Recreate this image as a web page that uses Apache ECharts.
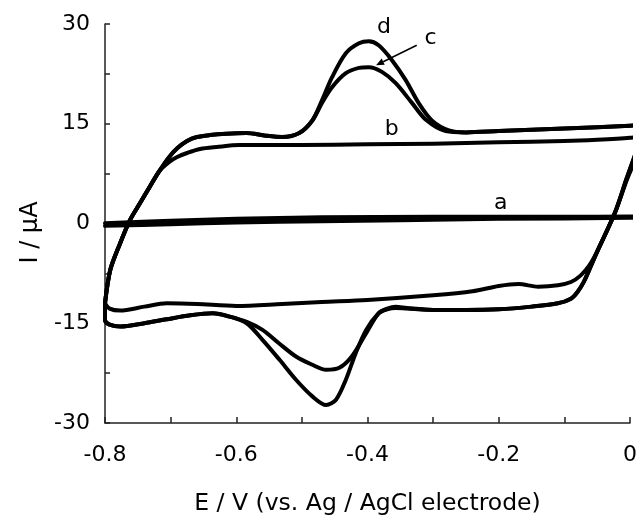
<!DOCTYPE html>
<html>
<head>
<meta charset="utf-8">
<script src="https://cdn.jsdelivr.net/npm/echarts@6/dist/echarts.min.js"></script>
<style>html,body{margin:0;padding:0;background:#fff;}#c{width:640px;height:521px;}</style>
</head>
<body>
<div id="c"></div>
<script>
// Potential E (V) vs current I (µA) for each voltammogram, as [E, I] pairs.
const curveA = [
  [-0.8, 0.05], [-0.7, 0.4], [-0.6, 0.7], [-0.47, 0.95], [-0.3, 1.0], [-0.2, 1.0], [-0.1, 1.0], [0, 1.05], [0.025, 1.05],
  [0, 0.85], [-0.2, 0.7], [-0.35, 0.5], [-0.47, 0.35], [-0.6, 0.15], [-0.7, -0.1], [-0.8, -0.35]
];
const curveB = [
  [-0.8, -12], [-0.792, -7], [-0.777, -3], [-0.762, 0.5], [-0.747, 3], [-0.732, 5.5], [-0.717, 7.9],
  [-0.703, 9.2], [-0.69, 10.0], [-0.675, 10.6], [-0.655, 11.2], [-0.63, 11.5], [-0.595, 11.8], [-0.5, 11.8],
  [-0.4, 11.9], [-0.3, 12.0], [-0.2, 12.2], [-0.1, 12.4], [-0.05, 12.6], [0, 12.9], [0.022, 13.2],
  [0.012, 10.5], [-0.005, 6.5], [-0.023, 1.6], [-0.049, -4], [-0.062, -6.3], [-0.075, -7.8], [-0.09, -8.8],
  [-0.11, -9.3], [-0.14, -9.5], [-0.17, -9.1], [-0.2, -9.4], [-0.24, -10.2], [-0.3, -10.8], [-0.4, -11.5],
  [-0.47, -11.8], [-0.53, -12.1], [-0.6, -12.4], [-0.66, -12.1], [-0.706, -12], [-0.74, -12.5],
  [-0.777, -13.1], [-0.793, -12.8], [-0.8, -12]
];
const curveC = [
  [-0.8, -12], [-0.792, -7], [-0.777, -3], [-0.762, 0.5], [-0.747, 3], [-0.732, 5.5], [-0.717, 7.9],
  [-0.703, 9.9], [-0.69, 11.3], [-0.675, 12.4], [-0.66, 13.0], [-0.64, 13.3], [-0.615, 13.5], [-0.585, 13.6],
  [-0.555, 13.2], [-0.53, 13.0], [-0.504, 13.6], [-0.484, 15.5], [-0.469, 18.2], [-0.454, 20.5], [-0.433, 22.6],
  [-0.413, 23.4], [-0.398, 23.5], [-0.378, 22.8], [-0.357, 21.1], [-0.332, 18.1], [-0.311, 15.6], [-0.281, 13.9],
  [-0.25, 13.7], [-0.2, 13.9], [-0.1, 14.3], [0, 14.7], [0.024, 14.9],
  [0.012, 11.5], [-0.005, 6.8], [-0.023, 1.6], [-0.049, -4], [-0.06, -6.5], [-0.07, -8.7], [-0.08, -10.3],
  [-0.09, -11.3], [-0.11, -12], [-0.15, -12.5], [-0.2, -12.9], [-0.25, -13], [-0.3, -13], [-0.34, -12.8],
  [-0.357, -12.7], [-0.37, -12.9], [-0.383, -13.5], [-0.402, -16.5], [-0.424, -20], [-0.443, -21.7],
  [-0.463, -22], [-0.485, -21.2], [-0.509, -20], [-0.535, -18], [-0.56, -16], [-0.584, -14.8], [-0.61, -14],
  [-0.636, -13.5], [-0.67, -13.8], [-0.706, -14.4], [-0.74, -15], [-0.777, -15.5], [-0.793, -15.2],
  [-0.8, -14.5], [-0.8, -12]
];
const curveD = [
  [-0.8, -12], [-0.792, -7], [-0.777, -3], [-0.762, 0.5], [-0.747, 3], [-0.732, 5.5], [-0.717, 7.9],
  [-0.703, 9.9], [-0.69, 11.3], [-0.675, 12.4], [-0.66, 13.0], [-0.64, 13.3], [-0.615, 13.5], [-0.585, 13.6],
  [-0.555, 13.2], [-0.53, 13.0], [-0.504, 13.6], [-0.484, 15.5], [-0.469, 18.6], [-0.454, 22], [-0.433, 25.6],
  [-0.413, 27.1], [-0.398, 27.4], [-0.383, 26.8], [-0.363, 24.6], [-0.342, 21.6], [-0.322, 18.1], [-0.302, 15.5],
  [-0.276, 14], [-0.25, 13.7], [-0.2, 13.9], [-0.1, 14.3], [0, 14.7], [0.024, 14.9],
  [0.012, 11.5], [-0.005, 6.8], [-0.023, 1.6], [-0.049, -4], [-0.06, -6.5], [-0.07, -8.7], [-0.08, -10.3],
  [-0.09, -11.3], [-0.11, -12], [-0.15, -12.5], [-0.2, -12.9], [-0.25, -13], [-0.3, -13], [-0.34, -12.7],
  [-0.357, -12.5], [-0.37, -12.8], [-0.383, -13.5], [-0.402, -16], [-0.418, -19.5], [-0.433, -23.5],
  [-0.448, -26.5], [-0.463, -27.3], [-0.484, -26], [-0.509, -23.5], [-0.534, -20.5], [-0.56, -17.5],
  [-0.584, -15], [-0.61, -14], [-0.636, -13.5], [-0.67, -13.8], [-0.706, -14.4], [-0.74, -15], [-0.777, -15.5],
  [-0.793, -15.2], [-0.8, -14.5], [-0.8, -12]
];
// Curve labels placed in data coordinates
const curveLabels = [
  { text: 'a', at: [-0.197, 3.1] },
  { text: 'b', at: [-0.363, 14.1] },
  { text: 'c', at: [-0.304, 27.9] },
  { text: 'd', at: [-0.375, 29.5] }
];
const arrowC = { from: [-0.325, 26.8], to: [-0.387, 23.8] };
const xTicks = { min: -0.8, max: 0, step: 0.1 };
const yTicks = { min: -30, max: 30, step: 7.5, labelStep: 15 };

const FONT = '"DejaVu Sans", "Liberation Sans", Arial, sans-serif';
const chart = echarts.init(document.getElementById('c'), null, { renderer: 'canvas' });

function mkSeries(name, data) {
  return {
    name: name, type: 'line', data: data, showSymbol: false, symbol: 'none',
    smooth: 0.3, clip: false, animation: false,
    lineStyle: { color: '#000', width: 4, cap: 'round', join: 'round' }
  };
}

chart.setOption({
  backgroundColor: '#fff',
  animation: false,
  grid: { left: 105, right: 8, top: 24, bottom: 98, containLabel: false },
  xAxis: {
    type: 'value', min: xTicks.min, max: xTicks.max, interval: xTicks.step,
    name: 'E / V (vs. Ag / AgCl electrode)', nameLocation: 'middle', nameGap: 69,
    nameTextStyle: { fontFamily: FONT, fontSize: 23.5, color: '#000' },
    axisLine: { show: true, onZero: false, lineStyle: { color: '#222', width: 1.5 } },
    axisTick: { show: true, inside: true, length: 6, lineStyle: { color: '#222', width: 1.5 } },
    axisLabel: {
      margin: 21, fontFamily: FONT, fontSize: 22, color: '#000',
      formatter: function (v) {
        const k = Math.round(v * 10);
        if (k % 2 !== 0) return '';
        return k === 0 ? '0' : (k / 10).toFixed(1);
      }
    },
    splitLine: { show: false }
  },
  yAxis: {
    type: 'value', min: yTicks.min, max: yTicks.max, interval: yTicks.step,
    name: 'I / µA', nameLocation: 'middle', nameGap: 62, nameRotate: 90,
    nameTextStyle: { fontFamily: FONT, fontSize: 24, color: '#000', padding: [0, 18, 0, 0] },
    axisLine: { show: true, onZero: false, lineStyle: { color: '#222', width: 1.5 } },
    axisTick: { show: true, inside: true, length: 5, lineStyle: { color: '#222', width: 1.5 } },
    axisLabel: {
      margin: 15, fontFamily: FONT, fontSize: 22, color: '#000',
      formatter: function (v) {
        const r = Math.round(v * 10) / 10;
        return (Math.abs(r % yTicks.labelStep) < 1e-6) ? String(r) : '';
      }
    },
    splitLine: { show: false }
  },
  series: [
    mkSeries('a', curveA),
    mkSeries('b', curveB),
    mkSeries('c', curveC),
    mkSeries('d', curveD)
  ]
});

const gfx = [];
curveLabels.forEach(function (l) {
  const p = chart.convertToPixel({ gridIndex: 0 }, l.at);
  gfx.push({
    type: 'text', x: p[0], y: p[1], z: 100,
    style: { text: l.text, fontFamily: FONT, fontSize: 22, fill: '#000', align: 'center', verticalAlign: 'middle' }
  });
});
const p1 = chart.convertToPixel({ gridIndex: 0 }, arrowC.from);
const p2 = chart.convertToPixel({ gridIndex: 0 }, arrowC.to);
const ang = Math.atan2(p2[1] - p1[1], p2[0] - p1[0]);
const ah = 8, aw = 3.5;
const bx = p2[0] - ah * Math.cos(ang), by = p2[1] - ah * Math.sin(ang);
gfx.push({
  type: 'line', z: 100,
  shape: { x1: p1[0], y1: p1[1], x2: bx, y2: by },
  style: { stroke: '#000', lineWidth: 1.5 }
});
gfx.push({
  type: 'polygon', z: 100,
  shape: { points: [
    [p2[0], p2[1]],
    [bx + aw * Math.sin(ang), by - aw * Math.cos(ang)],
    [bx - aw * Math.sin(ang), by + aw * Math.cos(ang)]
  ] },
  style: { fill: '#000' }
});
chart.setOption({ graphic: gfx });
</script>
</body>
</html>
